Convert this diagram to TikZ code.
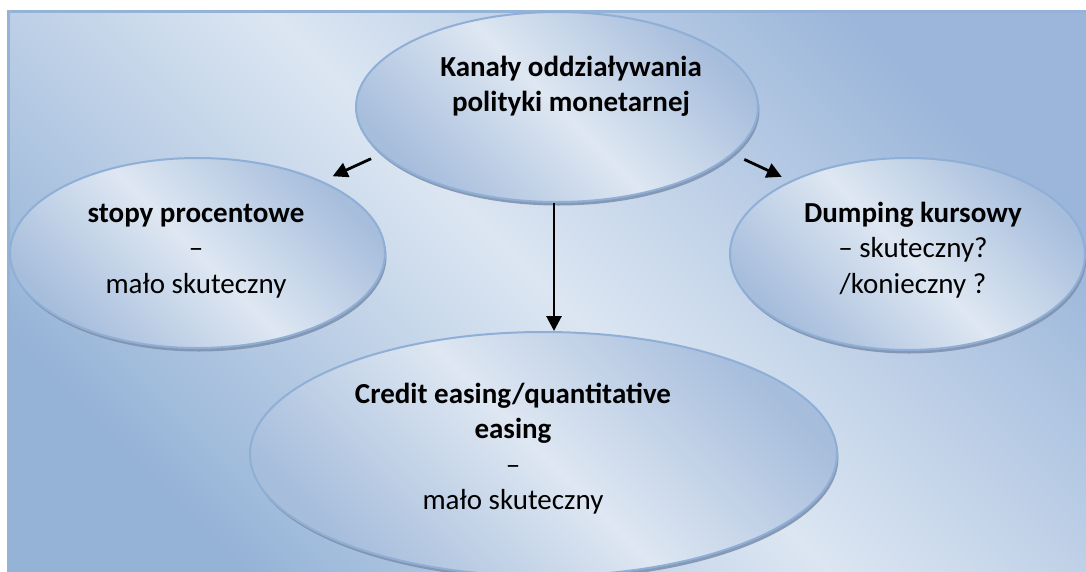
\documentclass[tikz,border=0pt]{standalone}
\usepackage{fontspec}
\setmainfont{Carlito}
\usetikzlibrary{shapes.geometric,arrows.meta,shadows}
\definecolor{bgborder}{HTML}{95B3D7}
\definecolor{bgdarkTR}{HTML}{95B3D7}
\definecolor{bgdarkBL}{HTML}{9BB6DA}
\definecolor{bglight}{HTML}{DCE6F2}
\definecolor{elldark}{HTML}{A6BDDC}
\definecolor{elllight}{HTML}{DEE7F2}
\definecolor{ellborder}{HTML}{8FAFD6}
\definecolor{shadowc}{HTML}{7F92AF}
\tikzset{
  ell/.style={ellipse, inner sep=0pt, draw=ellborder, line width=2pt,
    left color=elldark, right color=elldark, middle color=elllight, shading angle=-45,
    drop shadow={shadow xshift=1.5pt, shadow yshift=-3.5pt, fill=shadowc, opacity=0.9}},
  txt/.style={font=\fontsize{29}{35.5}\selectfont, inner sep=0pt, anchor=base},
  arr/.style={line width=2.8pt, -{Triangle[length=15pt,width=15pt]}}
}
\begin{document}
\begin{tikzpicture}[x=1pt,y=-1pt]
\useasboundingbox (0,0) rectangle (1086,571);
\fill[white] (0,0) rectangle (1086,571);
\begin{scope}
\clip (0,0) rectangle (1086,571);
\draw[line width=2.6pt, draw=bgborder, left color=bgdarkBL, right color=bgdarkTR,
  middle color=bglight, shading angle=-45] (8.5,11.3) rectangle (1095,580);
\node[ell, minimum width=402pt, minimum height=190pt] (top) at (557,107) {};
\node[ell, minimum width=375pt, minimum height=190pt] (left) at (197.5,253) {};
\node[ell, minimum width=355pt, minimum height=192pt] (right) at (907.5,254) {};
\node[ell, minimum width=587pt, minimum height=244pt] (bot) at (543.5,454) {};
\end{scope}
\draw[arr, shorten <=11pt, shorten >=11.5pt] (top.195) -- (left.30);
\draw[arr, shorten <=12.5pt, shorten >=9.5pt] (top.-15) -- (right.148);
\draw[arr] ([xshift=-3pt]top.south) -- ([xshift=10.5pt]bot.north);
\node[txt] (ttop) at (571,76) {\begin{tabular}[t]{@{}c@{}}\textbf{Kanały oddziaływania}\\ \textbf{polityki monetarnej}\end{tabular}};
\node[txt] (tleft) at (196,222) {\begin{tabular}[t]{@{}c@{}}\textbf{stopy procentowe}\\ –\\ mało skuteczny\end{tabular}};
\node[txt] (tright) at (913,222) {\begin{tabular}[t]{@{}c@{}}\textbf{Dumping kursowy}\\ – skuteczny?\\ /konieczny ?\end{tabular}};
\node[txt] (tbot) at (513,403) {\begin{tabular}[t]{@{}c@{}}\textbf{Credit easing/quantitative}\\ \textbf{easing}\\ –\\ mało skuteczny\end{tabular}};
\end{tikzpicture}
\end{document}
